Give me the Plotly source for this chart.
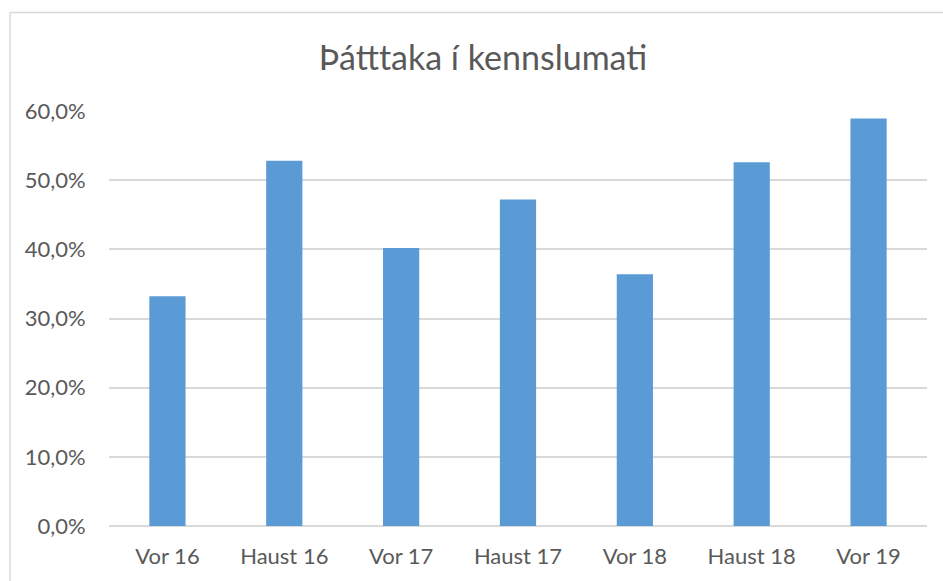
import plotly.graph_objects as go

categories = ["Vor 16", "Haust 16", "Vor 17", "Haust 17", "Vor 18", "Haust 18", "Vor 19"]
participation = [0.332, 0.528, 0.402, 0.472, 0.364, 0.526, 0.589]

W, H = 943, 581
ml, mr, mt, mb = 109, 16, 111, 55
pw = W - ml - mr
ph = H - mt - mb

def px_x(x):
    return (x - ml) / pw

def px_y(y):
    return (H - mb - y) / ph

fig = go.Figure(go.Bar(
    x=categories, y=participation,
    marker=dict(color="#5B9BD5", line=dict(width=0)),
    width=0.31,
))

font = "Lato"
fig.update_layout(
    width=W, height=H,
    margin=dict(l=ml, r=mr, t=mt, b=mb),
    paper_bgcolor="white", plot_bgcolor="white",
    separators=",.",
    showlegend=False,
    title=dict(text="Þátttaka í kennslumati", x=px_x(483), xref="paper",
               xanchor="center", y=1 - 58 / H, yanchor="middle",
               font=dict(family=font, size=34, color="#595959")),
    xaxis=dict(showgrid=False, showline=False, ticks="outside", ticklen=11,
               tickcolor="rgba(0,0,0,0)",
               tickfont=dict(family=font, size=22, color="#595959")),
    yaxis=dict(range=[0, 0.6], dtick=0.1, tickformat=".1%",
               showgrid=True, gridcolor="#D9D9D9", gridwidth=1.5,
               zeroline=True, zerolinecolor="#D9D9D9", zerolinewidth=1.5,
               showline=False, ticks="outside", ticklen=18,
               tickcolor="rgba(0,0,0,0)",
               tickfont=dict(family=font, size=22, color="#595959")),
    shapes=[
        dict(type="line", xref="paper", yref="paper",
             x0=px_x(10), x1=px_x(943), y0=px_y(12.5), y1=px_y(12.5),
             line=dict(color="#D9D9D9", width=1.5)),
        dict(type="line", xref="paper", yref="paper",
             x0=px_x(10), x1=px_x(10), y0=px_y(12.5), y1=px_y(581),
             line=dict(color="#D9D9D9", width=1.5)),
    ],
)

fig.write_html("out.html", config={"displayModeBar": False},
               post_script="document.body.style.margin='0';document.body.style.overflow='hidden';")
